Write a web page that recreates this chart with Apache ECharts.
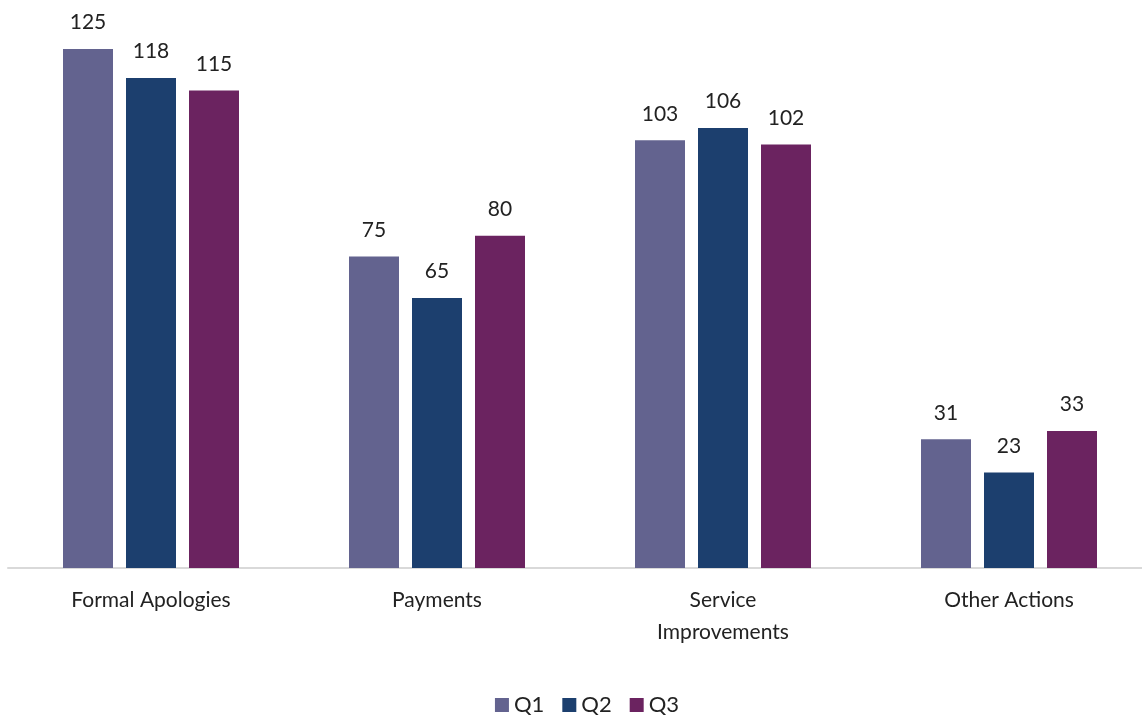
<!DOCTYPE html>
<html><head><meta charset="utf-8">
<script src="https://cdn.jsdelivr.net/npm/echarts@6/dist/echarts.min.js"></script>
<style>html,body{margin:0;padding:0;background:#fff;overflow:hidden;width:1142px;height:720px}#c{width:1174px;height:720px}</style>
</head><body><div id="c"></div>
<script>
const categories = ['Formal Apologies', 'Payments', 'Service\nImprovements', 'Other Actions'];
const seriesNames = ['Q1', 'Q2', 'Q3'];
const q1 = [125, 75, 103, 31];
const q2 = [118, 65, 106, 23];
const q3 = [115, 80, 102, 33];
const colors = ['#63638F', '#1C3F6E', '#6B2360'];
const font = 'Lato, "Open Sans", sans-serif';
const chart = echarts.init(document.getElementById('c'));
const data = [q1, q2, q3];
chart.setOption({
  animation: false,
  grid: { left: 8, width: 1144, top: 49, bottom: 152 },
  legend: {
    bottom: -1, left: 'center', itemWidth: 14, itemHeight: 14, itemGap: 18,
    icon: 'rect',
    textStyle: { fontFamily: font, fontSize: 22, color: '#222' },
    data: seriesNames
  },
  xAxis: {
    type: 'category', data: categories,
    axisLine: { lineStyle: { color: '#d9d9d9', width: 2 } },
    axisTick: { show: false },
    axisLabel: { fontFamily: font, fontSize: 21, color: '#222', margin: 16, lineHeight: 32, interval: 0 }
  },
  yAxis: { type: 'value', min: 0, max: 125, show: false, splitLine: { show: false } },
  series: data.map((d, i) => ({
    name: seriesNames[i], type: 'bar', data: d, barWidth: 50, barGap: '26%',
    itemStyle: { color: colors[i] },
    label: { show: true, position: 'top', distance: 16, fontFamily: font, fontSize: 21, color: '#222' }
  }))
});
</script></body></html>
